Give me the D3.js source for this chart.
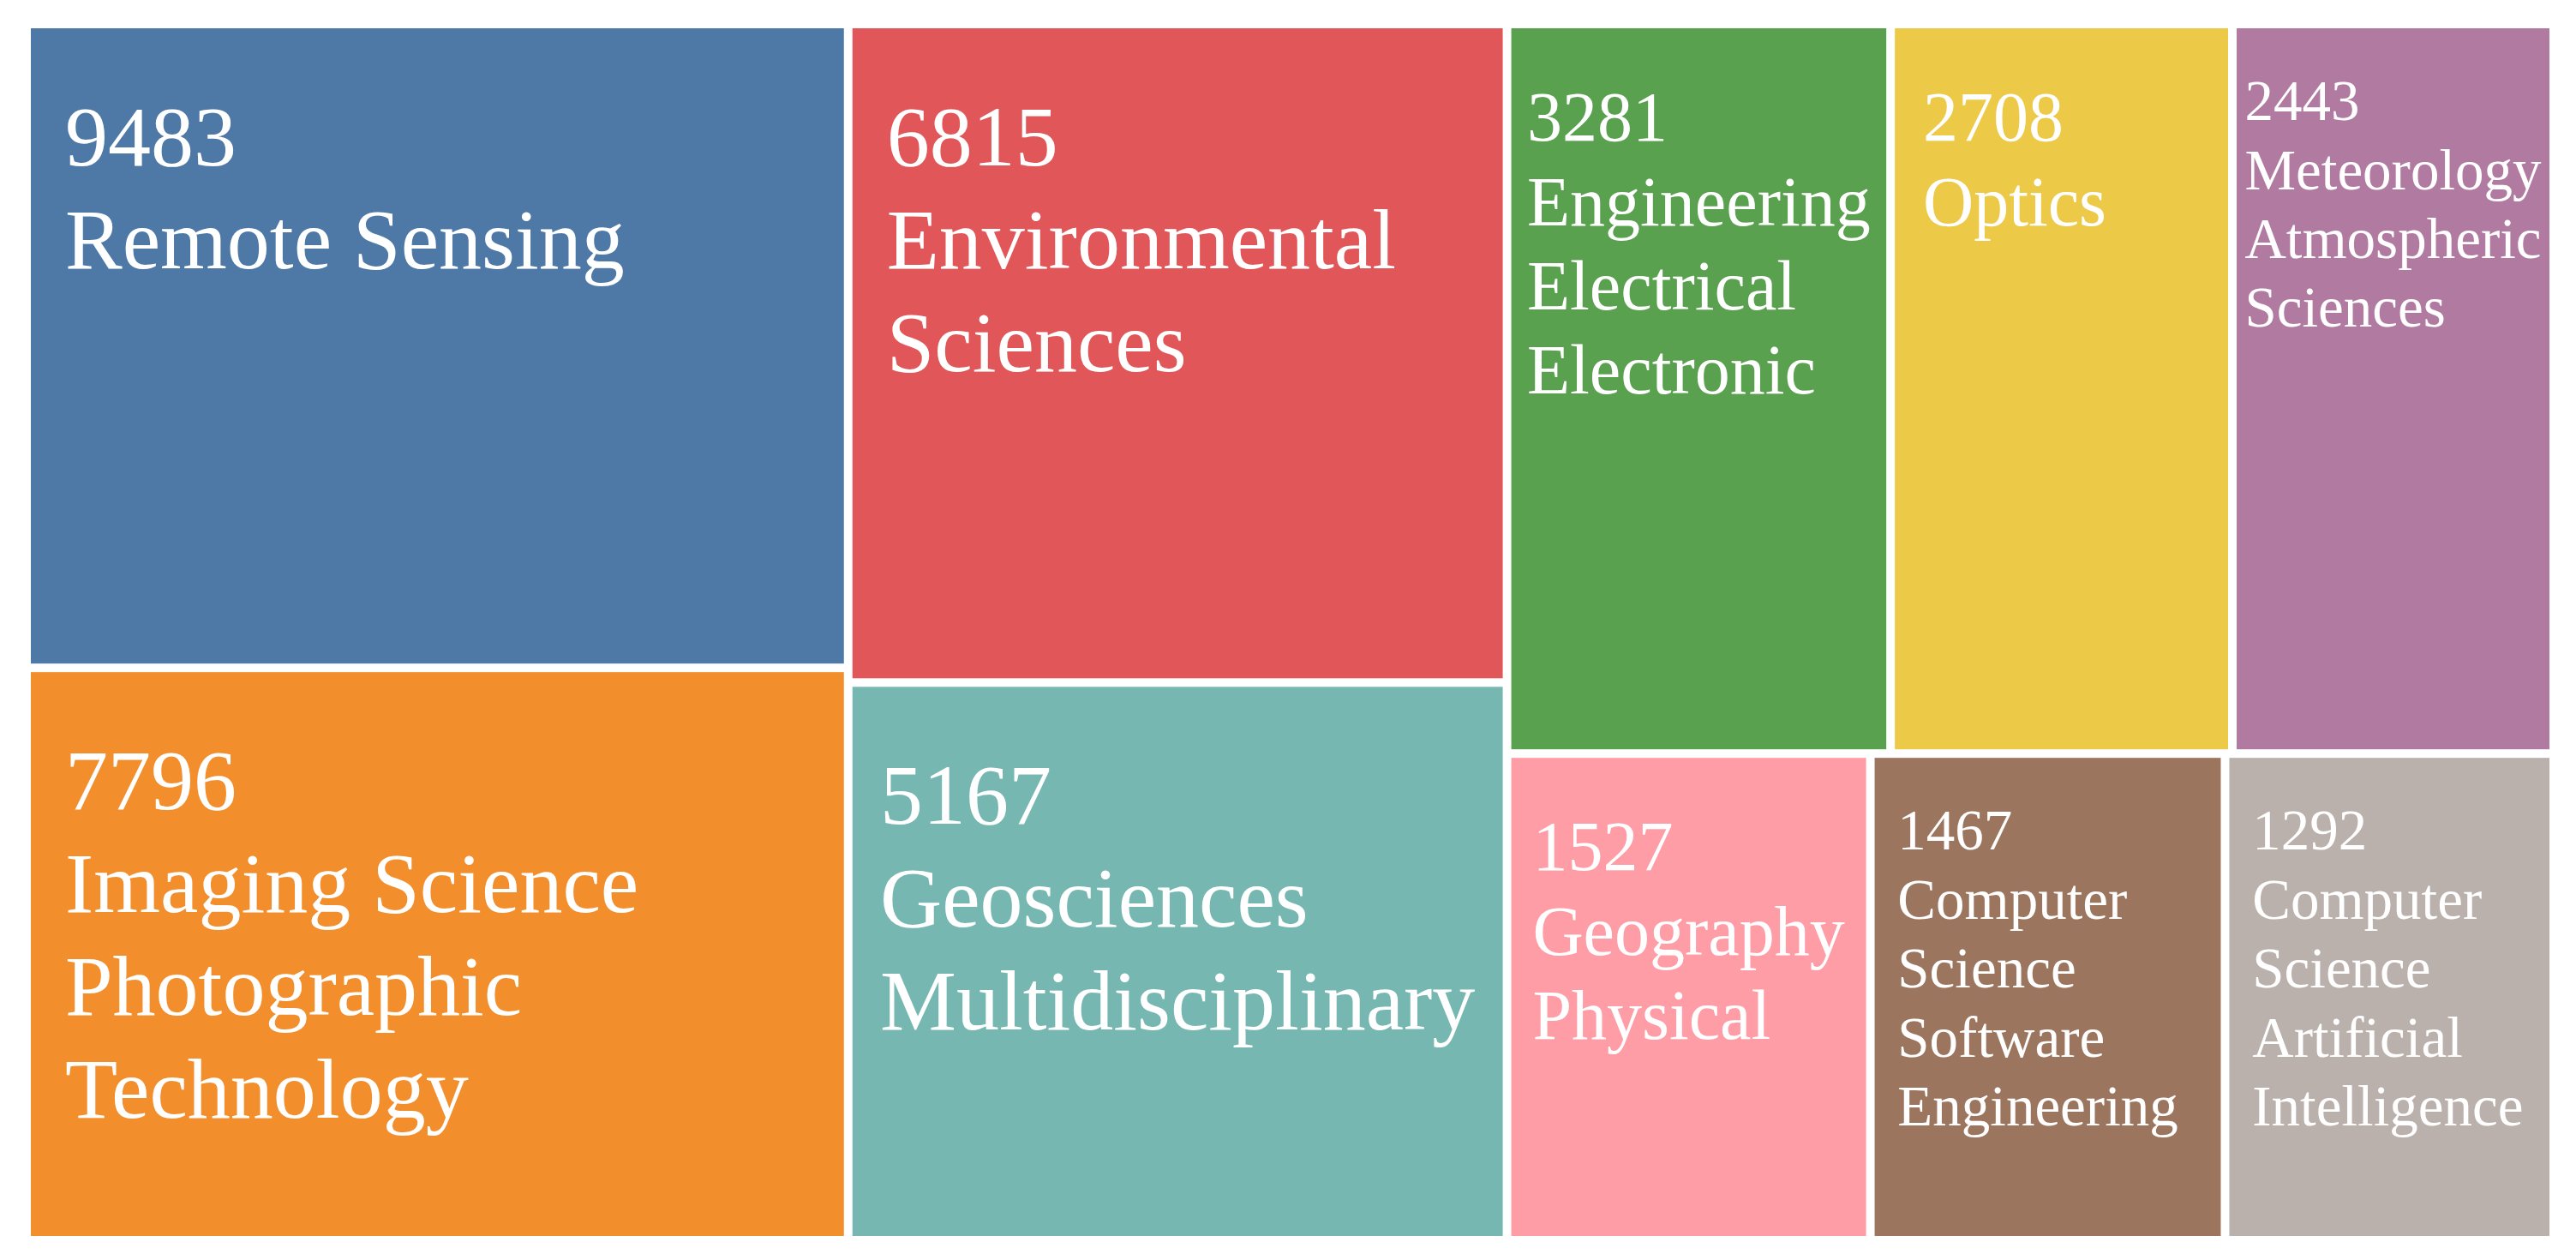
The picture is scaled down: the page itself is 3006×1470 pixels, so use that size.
<!DOCTYPE html>
<html>
<head>
<meta charset="utf-8">
<script src="https://cdn.jsdelivr.net/npm/d3@7"></script>
<style>
  body { margin: 0; background: #fff; }
  svg { display: block; }
</style>
</head>
<body>
<div id="treemap"></div>
<script>
// research areas and their record counts
const categories = [
  "Remote Sensing",
  "Imaging Science Photographic Technology",
  "Environmental Sciences",
  "Geosciences Multidisciplinary",
  "Engineering Electrical Electronic",
  "Optics",
  "Meteorology Atmospheric Sciences",
  "Geography Physical",
  "Computer Science Software Engineering",
  "Computer Science Artificial Intelligence"
];
const counts = [9483, 7796, 6815, 5167, 3281, 2708, 2443, 1527, 1467, 1292];

// grouping of the tiles (indices into categories)
const blocks = [[0, 1], [2, 3], [[4, 5, 6], [7, 8, 9]]];

const palette = ["#4e79a7", "#f28e2b", "#e15759", "#76b7b2", "#59a14f",
                 "#edc948", "#b07aa1", "#ff9da7", "#9c755f", "#bab0ac"];
const fontSizes = [100, 82, 67];

// set the dimensions and margins of the graph
var margin = {top: 33, right: 31, bottom: 28, left: 36},
    width = 3006 - margin.left - margin.right,
    height = 1470 - margin.top - margin.bottom;

var svg = d3.select("#treemap")
  .append("svg")
  .attr("width", width + margin.left + margin.right)
  .attr("height", height + margin.top + margin.bottom)
  .append("g")
  .attr("transform", "translate(" + margin.left + "," + margin.top + ")");

// tile sizes are not linear in the counts in the original, a power scale gets close
var weight = d3.scalePow()
  .exponent(0.6)
  .domain([0, d3.max(counts)])
  .range([0, 1]);

function toNode(b) {
  if (Array.isArray(b)) return {children: b.map(toNode)};
  return {name: categories[b], count: counts[b], idx: b};
}

var root = d3.hierarchy(toNode(blocks))
  .sum(function(d) { return d.count ? weight(d.count) : 0; });

d3.treemap()
  .tile(d3.treemapSliceDice)
  .size([width, height])
  .paddingInner(10)(root);

// measure text widths at 100px
var probe = svg.append("text")
  .style("font-family", "'Liberation Serif', 'Times New Roman', serif")
  .style("font-size", "100px");
function em(str) {
  probe.text(str);
  return probe.node().getComputedTextLength() / 100;
}

var cells = svg.selectAll("g.cell")
  .data(root.leaves())
  .enter()
  .append("g")
    .attr("class", "cell");

cells.append("rect")
  .attr("x", function(d) { return d.x0; })
  .attr("y", function(d) { return d.y0; })
  .attr("width", function(d) { return d.x1 - d.x0; })
  .attr("height", function(d) { return d.y1 - d.y0; })
  .style("fill", function(d) { return palette[d.data.idx]; });

cells.each(function(d) {
  var w = d.x1 - d.x0;
  var words = d.data.name.split(" ");
  var widest = d3.max(words, em);

  // pick the largest font that lets every word fit
  var fs = fontSizes[fontSizes.length - 1];
  for (var i = 0; i < fontSizes.length; i++) {
    var f = fontSizes[i];
    if (f <= 0.22 * w && widest * f + 0.2 * f <= w) { fs = f; break; }
  }

  // greedy word wrap
  var limit = w - 0.8 * fs;
  var lines = [], line = "";
  words.forEach(function(word) {
    var test = line ? line + " " + word : word;
    if (line && em(test) * fs > limit) {
      lines.push(line);
      line = word;
    } else {
      line = test;
    }
  });
  lines.push(line);

  var longest = d3.max(lines.concat([String(d.data.count)]), em) * fs;
  var pad = Math.min(0.4 * fs, Math.max(4, (w - longest) / 2));

  var text = d3.select(this).append("text")
    .attr("x", d.x0 + pad)
    .attr("y", d.y0 + 1.6 * fs)
    .style("font-family", "'Liberation Serif', 'Times New Roman', serif")
    .style("font-size", fs + "px")
    .style("fill", "#fff");

  text.append("tspan")
    .attr("x", d.x0 + pad)
    .text(d.data.count);

  lines.forEach(function(l) {
    text.append("tspan")
      .attr("x", d.x0 + pad)
      .attr("dy", "1.2em")
      .text(l);
  });
});

probe.remove();
</script>
</body>
</html>
